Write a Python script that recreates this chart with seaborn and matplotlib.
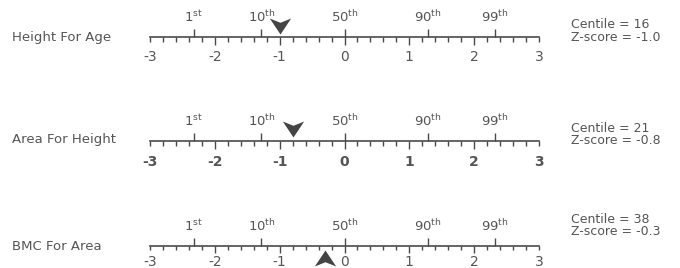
import numpy as np
import seaborn as sns
from matplotlib import pyplot as plt
from matplotlib.path import Path
from matplotlib.ticker import FixedLocator, MultipleLocator

sns.set_theme(style='white')
plt.rcParams['font.family'] = ['DejaVu Sans']
plt.rcParams['mathtext.fontset'] = 'dejavusans'

# data
measures = ['Height For Age', 'Area For Height', 'BMC For Area']
centiles = [16, 21, 38]
zscores = [-1.0, -0.8, -0.3]
arrow_dir = ['down', 'down', 'up']
bold_ticks = [False, True, False]
z_ticks = [-3, -2, -1, 0, 1, 2, 3]
pct_values = ['1', '10', '50', '90', '99']
pct_suffix = ['st', 'th', 'th', 'th', 'th']
pct_z = [-2.326, -1.282, 0.0, 1.282, 2.326]

W, H = 680, 268
line_col = '#4a4a4a'
text_col = '#555555'

# pixel layout per row
axis_y = [36.5, 140.5, 245.5]
label_base = [40.7, 143.3, 250.0]
centile_base = [28.3, 131.7, 222.7]
zscore_base = [40.7, 144.0, 235.0]
arrow_gap = [2.4, 4.0, 4.3]
tick_len = [(6.0, 3.6), (6.0, 3.6), (5.0, 3.0)]
tick_pad = [3.7, 4.5, 1.6]

ax_h = 30.0
x0, x1 = 150.0, 539.0


def arrow(direction):
    s = 1 if direction == 'down' else -1
    verts = [(0, 0), (1, 1.5 * s), (0, 1.1 * s), (-1, 1.5 * s), (0, 0)]
    codes = [Path.MOVETO, Path.LINETO, Path.LINETO, Path.LINETO, Path.CLOSEPOLY]
    return Path(verts, codes)


fig = plt.figure(figsize=(W / 100, H / 100), dpi=100)

for i, name in enumerate(measures):
    ax = fig.add_axes([x0 / W, 1 - axis_y[i] / H, (x1 - x0) / W, ax_h / H])
    ax.set_xlim(z_ticks[0], z_ticks[-1])
    ax.set_ylim(0, 1)
    for sp in ['top', 'left', 'right']:
        ax.spines[sp].set_visible(False)
    ax.spines['bottom'].set_color(line_col)
    ax.spines['bottom'].set_linewidth(1.2)
    ax.set_yticks([])
    ax.xaxis.set_major_locator(FixedLocator(z_ticks))
    ax.xaxis.set_minor_locator(MultipleLocator(0.2))
    major_len, minor_len = tick_len[i]
    ax.tick_params(axis='x', which='major', bottom=True, length=major_len, width=1.0,
                   color=line_col, labelcolor=text_col, labelsize=10, pad=tick_pad[i])
    ax.tick_params(axis='x', which='minor', bottom=True, length=minor_len, width=1.0,
                   color=line_col)
    labels = [str(t) for t in z_ticks]
    ax.set_xticks(z_ticks, labels, fontweight='bold' if bold_ticks[i] else 'normal')
    ticks = ax.xaxis.get_major_ticks()
    ticks[0].tick1line.set_markersize(minor_len)
    ticks[-1].tick1line.set_markersize(minor_len)

    # percentile ticks pointing up from the same line
    tw = ax.twiny()
    tw.set_xlim(z_ticks[0], z_ticks[-1])
    for sp in ['bottom', 'left', 'right']:
        tw.spines[sp].set_visible(False)
    tw.spines['top'].set_position(('axes', 0.0))
    tw.spines['top'].set_visible(False)
    tw.set_xticks(pct_z, [v + r'$^{\mathrm{' + s + '}}$' for v, s in zip(pct_values, pct_suffix)])
    tw.tick_params(axis='x', which='major', top=True, length=6.0, width=1.0,
                   color=line_col, labelcolor=text_col, labelsize=9.5, pad=2.5)
    tw.set_yticks([])

    gap = arrow_gap[i] / ax_h
    yy = gap if arrow_dir[i] == 'down' else -gap
    sns.scatterplot(x=[zscores[i]], y=[yy], ax=tw, marker=arrow(arrow_dir[i]), s=529,
                    color='#444444', linewidth=0, clip_on=False, zorder=5)
    tw.set_ylim(0, 1)
    tw.set_xlabel('')
    tw.set_ylabel('')

    fig.text(12 / W, 1 - label_base[i] / H, name, fontsize=9.5, color=text_col,
             ha='left', va='baseline')
    fig.text(571 / W, 1 - centile_base[i] / H, f'Centile = {centiles[i]}', fontsize=9,
             color=text_col, ha='left', va='baseline')
    fig.text(571 / W, 1 - zscore_base[i] / H, f'Z-score = {zscores[i]:.1f}', fontsize=9,
             color=text_col, ha='left', va='baseline')

fig.savefig('out.png', dpi=100)
